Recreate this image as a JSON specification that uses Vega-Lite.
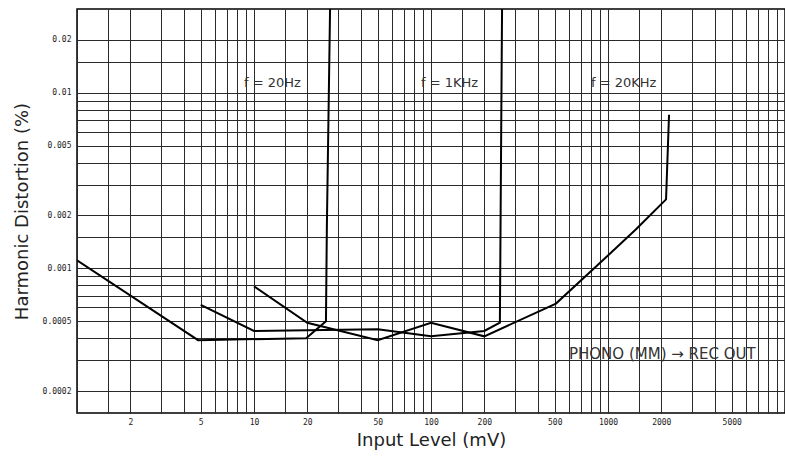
{
  "$schema": "https://vega.github.io/schema/vega-lite/v6.json",
  "width": 708,
  "height": 404,
  "autosize": {"type": "none"},
  "padding": {"left": 77, "top": 9, "right": 0, "bottom": 48},
  "background": "white",
  "config": {
    "view": {"stroke": "black", "strokeWidth": 1.5},
    "font": "DejaVu Sans"
  },
  "datasets": {
    "curves": [
      {"series": "20Hz", "mv": 1, "thd": 0.00111},
      {"series": "20Hz", "mv": 4.83, "thd": 0.00039},
      {"series": "20Hz", "mv": 19.7, "thd": 0.0004},
      {"series": "20Hz", "mv": 25.5, "thd": 0.0005},
      {"series": "20Hz", "mv": 25.8, "thd": 0.0017},
      {"series": "20Hz", "mv": 26.9, "thd": 0.03},
      {"series": "1KHz", "mv": 5, "thd": 0.00062},
      {"series": "1KHz", "mv": 10, "thd": 0.00044},
      {"series": "1KHz", "mv": 50, "thd": 0.00045},
      {"series": "1KHz", "mv": 100, "thd": 0.00041},
      {"series": "1KHz", "mv": 200, "thd": 0.00044},
      {"series": "1KHz", "mv": 245, "thd": 0.00049},
      {"series": "1KHz", "mv": 252, "thd": 0.03},
      {"series": "20KHz", "mv": 10, "thd": 0.00079},
      {"series": "20KHz", "mv": 20, "thd": 0.00049},
      {"series": "20KHz", "mv": 50, "thd": 0.00039},
      {"series": "20KHz", "mv": 100, "thd": 0.00049},
      {"series": "20KHz", "mv": 200, "thd": 0.00041},
      {"series": "20KHz", "mv": 508, "thd": 0.00063},
      {"series": "20KHz", "mv": 925, "thd": 0.0011},
      {"series": "20KHz", "mv": 1440, "thd": 0.00167},
      {"series": "20KHz", "mv": 2128, "thd": 0.00247},
      {"series": "20KHz", "mv": 2212, "thd": 0.0075}
    ],
    "labels": [
      {"text": "f = 20Hz", "mv": 8.78, "thd": 0.0114},
      {"text": "f = 1KHz", "mv": 87.8, "thd": 0.0114},
      {"text": "f = 20KHz", "mv": 802, "thd": 0.0114},
      {"text": "PHONO (MM) → REC OUT", "mv": 602, "thd": 0.000325}
    ]
  },
  "encoding": {
    "x": {
      "field": "mv",
      "type": "quantitative",
      "scale": {"type": "log", "domain": [1, 10000], "nice": false},
      "axis": {
        "values": [1, 1.5, 2, 3, 4, 5, 6, 7, 8, 9, 10, 15, 20, 30, 40, 50, 60, 70, 80, 90, 100, 150, 200, 300, 400, 500, 600, 700, 800, 900, 1000, 1500, 2000, 3000, 4000, 5000, 6000, 7000, 8000, 9000],
        "labelExpr": "indexof([2,5,10,20,50,100,200,500,1000,2000,5000], datum.value) >= 0 ? '' + datum.value : ''",
        "title": "Input Level (mV)",
        "grid": true,
        "gridColor": "#2a2a2a",
        "gridWidth": 1,
        "ticks": false,
        "domain": false,
        "labelFont": "DejaVu Sans Mono",
        "labelFontSize": 8,
        "labelColor": "#222222",
        "labelPadding": 5,
        "labelOverlap": false,
        "labelFlush": false,
        "titleFont": "DejaVu Sans",
        "titleFontSize": 18,
        "titleFontWeight": "normal",
        "titleColor": "#222222",
        "titlePadding": 5
      }
    },
    "y": {
      "field": "thd",
      "type": "quantitative",
      "scale": {"type": "log", "domain": [0.00015, 0.03], "nice": false},
      "axis": {
        "values": [0.0002, 0.0003, 0.0004, 0.0005, 0.0006, 0.0007, 0.0008, 0.0009, 0.001, 0.0015, 0.002, 0.003, 0.004, 0.005, 0.006, 0.007, 0.008, 0.009, 0.01, 0.015, 0.02],
        "labelExpr": "indexof([0.02,0.01,0.005,0.002,0.001,0.0005,0.0002], datum.value) >= 0 ? '' + datum.value : ''",
        "title": "Harmonic Distortion (%)",
        "grid": true,
        "gridColor": "#2a2a2a",
        "gridWidth": 1,
        "ticks": false,
        "domain": false,
        "labelFont": "DejaVu Sans Mono",
        "labelFontSize": 8,
        "labelColor": "#222222",
        "labelPadding": 6,
        "labelOverlap": false,
        "labelFlush": false,
        "titleFont": "DejaVu Sans",
        "titleFontSize": 18,
        "titleFontWeight": "normal",
        "titleColor": "#222222",
        "titlePadding": 11
      }
    }
  },
  "layer": [
    {
      "data": {"name": "curves"},
      "mark": {"type": "line", "color": "black", "strokeWidth": 2, "clip": true},
      "encoding": {"detail": {"field": "series", "type": "nominal"}}
    },
    {
      "data": {"name": "labels"},
      "mark": {"type": "text", "align": "left", "baseline": "middle", "color": "#333333", "font": "DejaVu Sans"},
      "encoding": {
        "text": {"field": "text", "type": "nominal"},
        "size": {"condition": {"test": "indexof(datum.text, 'PHONO') >= 0", "value": 15}, "value": 13}
      }
    }
  ]
}
